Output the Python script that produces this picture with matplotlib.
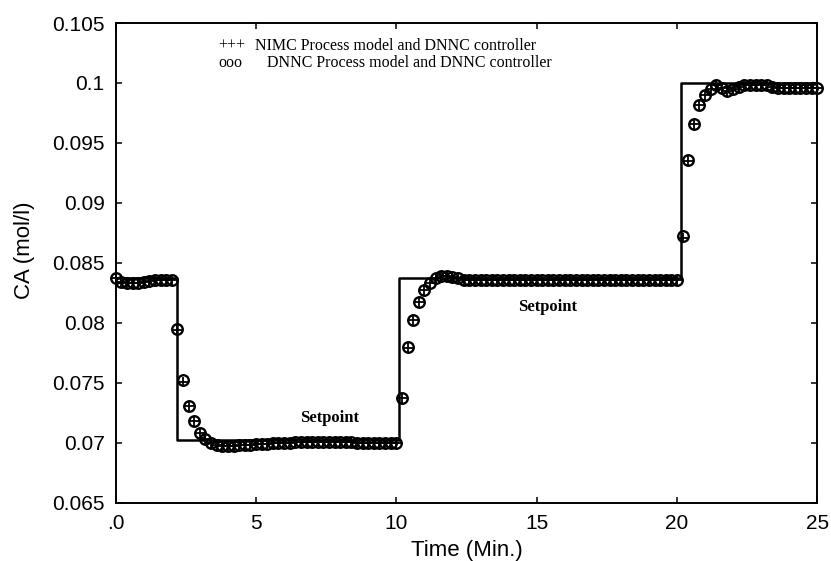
import numpy as np
import matplotlib
matplotlib.use("Agg")
from matplotlib import pyplot as plt

# sample grid, one sample every 0.2 min
time = np.linspace(0, 25, 126)

# CA response, NIMC process model + DNNC controller  (+++)
nimc = [
    0.0837, 0.0834, 0.0833, 0.0833, 0.0833, 0.0834, 0.0835, 0.0836, 0.0836, 0.0836,
    0.0836, 0.0794, 0.0751, 0.0731, 0.0718, 0.0708, 0.0703, 0.0700, 0.0698, 0.0697,
    0.0697, 0.0697, 0.0698, 0.0698, 0.0698, 0.0699, 0.0699, 0.0699, 0.0700, 0.0700,
    0.0700, 0.0700, 0.0701, 0.0701, 0.0701, 0.0701, 0.0701, 0.0701, 0.0701, 0.0701,
    0.0701, 0.0701, 0.0701, 0.0700, 0.0700, 0.0700, 0.0700, 0.0700, 0.0700, 0.0700,
    0.0700, 0.0737, 0.0779, 0.0802, 0.0817, 0.0827, 0.0833, 0.0837, 0.0839, 0.0839,
    0.0838, 0.0837, 0.0836, 0.0836, 0.0836, 0.0836, 0.0836, 0.0836, 0.0836, 0.0836,
    0.0836, 0.0836, 0.0836, 0.0836, 0.0836, 0.0836, 0.0836, 0.0836, 0.0836, 0.0836,
    0.0836, 0.0836, 0.0836, 0.0836, 0.0836, 0.0836, 0.0836, 0.0836, 0.0836, 0.0836,
    0.0836, 0.0836, 0.0836, 0.0836, 0.0836, 0.0836, 0.0836, 0.0836, 0.0836, 0.0836,
    0.0836, 0.0871, 0.0935, 0.0966, 0.0982, 0.0990, 0.0995, 0.0998, 0.0996, 0.0993,
    0.0995, 0.0997, 0.0998, 0.0998, 0.0998, 0.0998, 0.0998, 0.0997, 0.0996, 0.0996,
    0.0996, 0.0996, 0.0996, 0.0996, 0.0996, 0.0996,
]

# CA response, DNNC process model + DNNC controller  (ooo)
dnnc = [
    0.0837, 0.0834, 0.0833, 0.0833, 0.0833, 0.0834, 0.0835, 0.0836, 0.0836, 0.0836,
    0.0836, 0.0795, 0.0752, 0.0731, 0.0718, 0.0708, 0.0703, 0.0700, 0.0698, 0.0697,
    0.0697, 0.0697, 0.0698, 0.0698, 0.0698, 0.0699, 0.0699, 0.0699, 0.0700, 0.0700,
    0.0700, 0.0700, 0.0701, 0.0701, 0.0701, 0.0701, 0.0701, 0.0701, 0.0701, 0.0701,
    0.0701, 0.0701, 0.0701, 0.0700, 0.0700, 0.0700, 0.0700, 0.0700, 0.0700, 0.0700,
    0.0700, 0.0737, 0.0780, 0.0802, 0.0817, 0.0827, 0.0833, 0.0837, 0.0839, 0.0839,
    0.0838, 0.0837, 0.0836, 0.0836, 0.0836, 0.0836, 0.0836, 0.0836, 0.0836, 0.0836,
    0.0836, 0.0836, 0.0836, 0.0836, 0.0836, 0.0836, 0.0836, 0.0836, 0.0836, 0.0836,
    0.0836, 0.0836, 0.0836, 0.0836, 0.0836, 0.0836, 0.0836, 0.0836, 0.0836, 0.0836,
    0.0836, 0.0836, 0.0836, 0.0836, 0.0836, 0.0836, 0.0836, 0.0836, 0.0836, 0.0836,
    0.0836, 0.0872, 0.0936, 0.0966, 0.0982, 0.0990, 0.0995, 0.0998, 0.0996, 0.0993,
    0.0995, 0.0997, 0.0998, 0.0998, 0.0998, 0.0998, 0.0998, 0.0997, 0.0996, 0.0996,
    0.0996, 0.0996, 0.0996, 0.0996, 0.0996, 0.0996,
]

# setpoint staircase
sp_t = [0, 2.2, 2.2, 10.1, 10.1, 20.15, 20.15, 25]
sp_y = [0.0837, 0.0837, 0.0702, 0.0702, 0.0837, 0.0837, 0.1, 0.1]

xticks = [0, 5, 10, 15, 20, 25]
xtick_labels = ['.0', '5', '10', '15', '20', '25']
yticks = [0.065, 0.07, 0.075, 0.08, 0.085, 0.09, 0.095, 0.1, 0.105]
ytick_labels = ['0.065', '0.07', '0.075', '0.08', '0.085', '0.09', '0.095', '0.1', '0.105']

fig = plt.figure(figsize=(8.31, 5.61), dpi=100)
ax = fig.add_axes([0.1392, 0.1039, 0.8443, 0.8551])

ax.plot(sp_t, sp_y, color='black', lw=1.8)
ax.plot(time, dnnc, 'o', ms=7.6, mfc='none', mec='black', mew=1.7, clip_on=False)
ax.plot(time, nimc, '+', ms=7.6, color='black', mew=1.3, clip_on=False)

ax.set_xlim(0, 25)
ax.set_ylim(0.065, 0.105)
ax.set_xticks(xticks)
ax.set_xticklabels(xtick_labels)
ax.set_yticks(yticks)
ax.set_yticklabels(ytick_labels)
ax.tick_params(direction='in', length=4, width=1.1, top=True, right=True,
               labelsize=15, pad=8)
for lab in ax.get_xticklabels() + ax.get_yticklabels():
    lab.set_family('Liberation Sans')
for s in ax.spines.values():
    s.set_linewidth(1.4)

ax.set_xlabel('Time (Min.)', fontsize=16, family='Liberation Sans')
ax.set_ylabel('CA (mol/l)', fontsize=16, family='Liberation Sans')
ax.xaxis.set_label_coords(0.5, -0.078)
ax.yaxis.set_label_coords(-0.115, 0.527)

# legend written as plain text, like the original
serif = 'Liberation Serif'
ax.text(3.65, 0.1031, '+++', fontsize=11.5, family=serif, va='center')
ax.text(4.96, 0.1031, 'NIMC Process model and DNNC controller', fontsize=11.5,
        family=serif, va='center')
ax.text(3.65, 0.10166, 'ooo', fontsize=11.5, family=serif, va='center')
ax.text(5.39, 0.10166, 'DNNC Process model and DNNC controller', fontsize=11.5,
        family=serif, va='center')

ax.text(6.57, 0.0721, 'Setpoint', fontsize=12, family=serif, weight='bold', va='center')
ax.text(14.34, 0.0813, 'Setpoint', fontsize=12, family=serif, weight='bold', va='center')

fig.savefig('out.png', dpi=100)
